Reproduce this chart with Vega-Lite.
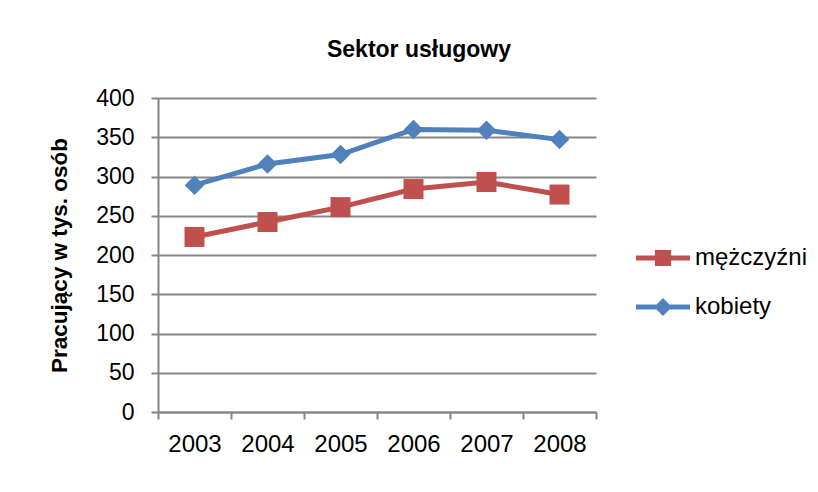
{
  "$schema": "https://vega.github.io/schema/vega-lite/v6.json",
  "width": 438,
  "height": 314,
  "autosize": {"type": "none"},
  "padding": {"left": 158, "top": 98, "right": 222, "bottom": 80},
  "background": "white",
  "title": {
    "text": "Sektor usługowy",
    "font": "Liberation Sans",
    "fontSize": 23,
    "fontWeight": "bold",
    "color": "black",
    "anchor": "middle",
    "dx": 42,
    "offset": 25
  },
  "data": {
    "values": [
      {"rok": "2003", "seria": "mężczyźni", "wartosc": 223},
      {"rok": "2004", "seria": "mężczyźni", "wartosc": 242},
      {"rok": "2005", "seria": "mężczyźni", "wartosc": 261},
      {"rok": "2006", "seria": "mężczyźni", "wartosc": 284},
      {"rok": "2007", "seria": "mężczyźni", "wartosc": 293},
      {"rok": "2008", "seria": "mężczyźni", "wartosc": 277},
      {"rok": "2003", "seria": "kobiety", "wartosc": 289},
      {"rok": "2004", "seria": "kobiety", "wartosc": 316},
      {"rok": "2005", "seria": "kobiety", "wartosc": 328},
      {"rok": "2006", "seria": "kobiety", "wartosc": 360},
      {"rok": "2007", "seria": "kobiety", "wartosc": 359},
      {"rok": "2008", "seria": "kobiety", "wartosc": 347}
    ]
  },
  "encoding": {
    "x": {
      "field": "rok",
      "type": "ordinal",
      "scale": {"paddingInner": 0, "paddingOuter": 0},
      "axis": {
        "title": null,
        "labelAngle": 0,
        "labelFont": "Liberation Sans",
        "labelFontSize": 24,
        "labelColor": "black",
        "labelPadding": 13,
        "tickBand": "extent",
        "tickSize": 7,
        "tickColor": "#868686",
        "tickWidth": 2,
        "domainColor": "#868686",
        "domainWidth": 2,
        "grid": false
      }
    },
    "y": {
      "field": "wartosc",
      "type": "quantitative",
      "scale": {"domain": [0, 400]},
      "axis": {
        "title": "Pracujący w tys. osób",
        "titleFont": "Liberation Sans",
        "titleFontSize": 22.5,
        "titleFontWeight": "bold",
        "titleColor": "black",
        "titlePadding": 24,
        "values": [0, 50, 100, 150, 200, 250, 300, 350, 400],
        "labelFont": "Liberation Sans",
        "labelFontSize": 23,
        "labelColor": "black",
        "labelPadding": 17,
        "tickSize": 7,
        "tickColor": "#868686",
        "tickWidth": 2,
        "domainColor": "#868686",
        "domainWidth": 2,
        "grid": true,
        "gridColor": "#868686",
        "gridWidth": 2
      }
    },
    "color": {
      "field": "seria",
      "type": "nominal",
      "scale": {"domain": ["mężczyźni", "kobiety"], "range": ["#C0504D", "#4F81BD"]},
      "legend": {
        "title": null,
        "orient": "none",
        "legendX": 478,
        "legendY": 133,
        "symbolOpacity": 1,
        "symbolSize": 2916,
        "symbolStrokeWidth": 0,
        "labelFont": "Liberation Sans",
        "labelFontSize": 24,
        "labelColor": "black",
        "labelOffset": 5,
        "rowPadding": 10,
        "padding": 0
      }
    }
  },
  "layer": [
    {
      "mark": {"type": "line", "strokeWidth": 5}
    },
    {
      "transform": [{"filter": "datum.seria === 'mężczyźni'"}],
      "mark": {"type": "point", "shape": "square", "filled": true, "opacity": 1, "size": 400}
    },
    {
      "transform": [{"filter": "datum.seria === 'kobiety'"}],
      "mark": {"type": "point", "shape": "diamond", "filled": true, "opacity": 1, "size": 380}
    },
    {
      "mark": {"type": "point", "filled": true, "opacity": 0, "size": 2916},
      "encoding": {
        "shape": {
          "field": "seria",
          "type": "nominal",
          "scale": {
            "domain": ["mężczyźni", "kobiety"],
            "range": [
              "M-1,-0.09H-0.3V-0.3H0.3V-0.09H1V0.09H0.3V0.3H-0.3V0.09H-1Z",
              "M-1,-0.09H-0.24L0,-0.33L0.24,-0.09H1V0.09H0.24L0,0.33L-0.24,0.09H-1Z"
            ]
          },
          "legend": {
            "title": null,
            "orient": "none",
            "legendX": 478,
            "legendY": 133,
            "symbolOpacity": 1,
            "symbolSize": 2916,
            "symbolStrokeWidth": 0,
            "labelFont": "Liberation Sans",
            "labelFontSize": 24,
            "labelColor": "black",
            "labelOffset": 5,
            "rowPadding": 10,
            "padding": 0
          }
        }
      }
    }
  ],
  "config": {
    "view": {"stroke": null}
  }
}
